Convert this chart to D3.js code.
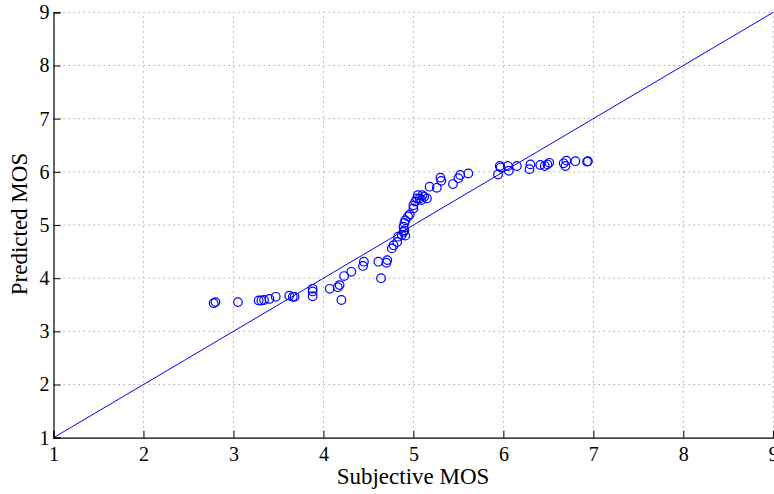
<!DOCTYPE html>
<html>
<head>
<meta charset="utf-8">
<script src="https://d3js.org/d3.v7.min.js"></script>
<style>
  body { margin: 0; background: #fff; }
  text { font-family: "Liberation Serif", "Times New Roman", serif; }
</style>
</head>
<body>
<div id="chart"></div>
<script>
// subjective vs predicted MOS
var subjective = [2.78, 2.80, 3.05, 3.28, 3.31, 3.34, 3.40, 3.47, 3.62, 3.66, 3.68, 3.88, 3.88, 3.88,
  4.07, 4.16, 4.18, 4.20, 4.23, 4.31, 4.44, 4.45, 4.61, 4.64, 4.70, 4.71, 4.76, 4.78, 4.82, 4.83,
  4.87, 4.89, 4.90, 4.91, 4.89, 4.90, 4.91, 4.94, 4.96, 5.00, 5.00, 5.02, 5.04, 5.05, 5.07, 5.09,
  5.10, 5.12, 5.15, 5.18, 5.26, 5.30, 5.31, 5.44, 5.50, 5.52, 5.61, 5.94, 5.96, 5.97, 6.05, 6.06,
  6.15, 6.30, 6.29, 6.41, 6.46, 6.49, 6.51, 6.67, 6.70, 6.69, 6.80, 6.93, 6.94]
var predicted = [3.53, 3.55, 3.55, 3.58, 3.58, 3.59, 3.61, 3.65, 3.67, 3.65, 3.65, 3.80, 3.75, 3.66,
  3.80, 3.83, 3.87, 3.59, 4.04, 4.12, 4.23, 4.31, 4.31, 4.00, 4.29, 4.34, 4.56, 4.62, 4.68, 4.78,
  4.81, 4.87, 4.90, 4.80, 4.97, 5.04, 5.09, 5.16, 5.20, 5.31, 5.37, 5.44, 5.50, 5.56, 5.50, 5.47,
  5.56, 5.53, 5.50, 5.72, 5.70, 5.89, 5.83, 5.77, 5.88, 5.94, 5.97, 5.95, 6.11, 6.08, 6.11, 6.02,
  6.11, 6.14, 6.05, 6.13, 6.11, 6.14, 6.17, 6.16, 6.21, 6.11, 6.20, 6.19, 6.20]
var ticks = [1, 2, 3, 4, 5, 6, 7, 8, 9]
var diagonal = [1, 9]

var width = 774
var height = 494

var svg = d3.select("#chart")
  .append("svg")
    .attr("width", width)
    .attr("height", height)

var x = d3.scaleLinear()
  .domain([1, 9])
  .range([53.5, 773.3])

var y = d3.scaleLinear()
  .domain([1, 9])
  .range([437.7, 12.3])

// dotted grid
svg.append("g")
  .selectAll("line")
  .data(ticks.slice(1))
  .enter().append("line")
    .attr("x1", d => x(d)).attr("x2", d => x(d))
    .attr("y1", y(1)).attr("y2", y(9))
    .attr("stroke", "#aaa")
    .attr("stroke-dasharray", "1.5,3.5")

svg.append("g")
  .selectAll("line")
  .data(ticks.slice(1))
  .enter().append("line")
    .attr("y1", d => y(d)).attr("y2", d => y(d))
    .attr("x1", x(1)).attr("x2", x(9))
    .attr("stroke", "#aaa")
    .attr("stroke-dasharray", "1.5,3.5")

// axes, ticks pointing inwards like matlab
var xAxis = svg.append("g")
  .attr("transform", "translate(0," + y(1) + ")")
  .call(d3.axisBottom(x).tickValues(ticks).tickSize(-7).tickPadding(10).tickFormat(d3.format("d")))
var yAxis = svg.append("g")
  .attr("transform", "translate(" + x(1) + ",0)")
  .call(d3.axisLeft(y).tickValues(ticks).tickSize(-7).tickPadding(10).tickFormat(d3.format("d")))

svg.selectAll(".domain").attr("stroke", "#000").attr("stroke-width", 1.2)
svg.selectAll(".tick line").attr("stroke", "#000")
svg.selectAll(".tick text")
  .attr("fill", "#000")
  .style("font-family", "Liberation Serif")
  .style("font-size", "20px")
xAxis.selectAll(".tick text").attr("dy", "0.8em").attr("y", 7)
yAxis.selectAll(".tick text").attr("x", -4)

// identity line
svg.append("line")
  .attr("x1", x(diagonal[0])).attr("y1", y(diagonal[0]))
  .attr("x2", x(diagonal[1])).attr("y2", y(diagonal[1]))
  .attr("stroke", "#0000ff")
  .attr("stroke-width", 1)

// scatter
svg.append("g")
  .selectAll("circle")
  .data(subjective.map((s, i) => [s, predicted[i]]))
  .enter().append("circle")
    .attr("cx", d => x(d[0]))
    .attr("cy", d => y(d[1]))
    .attr("r", 4.3)
    .attr("fill", "none")
    .attr("stroke", "#0000ff")
    .attr("stroke-width", 1.2)

// labels
svg.append("text")
  .attr("x", 413)
  .attr("y", 484)
  .attr("text-anchor", "middle")
  .style("font-size", "23px")
  .text("Subjective MOS")

svg.append("text")
  .attr("transform", "translate(27,224) rotate(-90)")
  .attr("text-anchor", "middle")
  .style("font-size", "23px")
  .text("Predicted MOS")
</script>
</body>
</html>
